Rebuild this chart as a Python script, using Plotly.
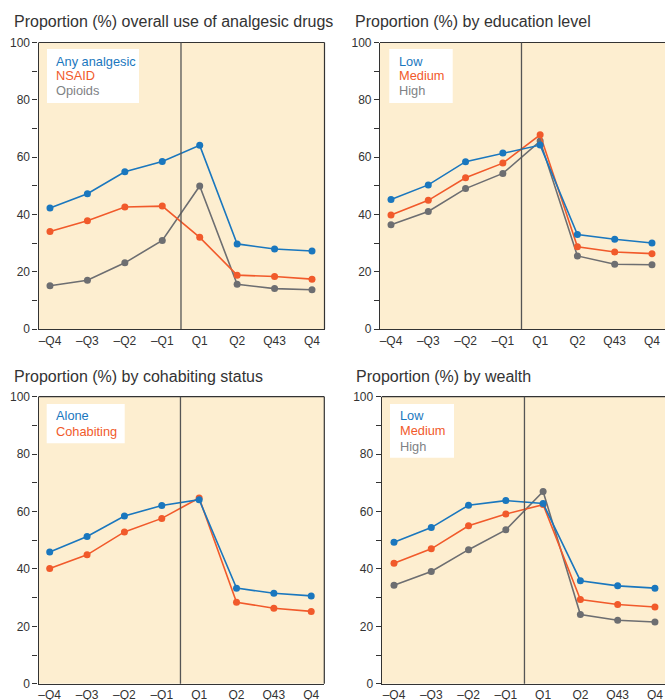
import plotly.graph_objects as go

W, H = 665, 700

# ---------------- data ----------------
quarters = ["–Q4", "–Q3", "–Q2", "–Q1", "Q1", "Q2", "Q43", "Q4"]
y_tick_vals = [0, 10, 20, 30, 40, 50, 60, 70, 80, 90, 100]
y_tick_text = ["0", "", "20", "", "40", "", "60", "", "80", "", "100"]

titles = [
    "Proportion (%) overall use of analgesic drugs",
    "Proportion (%) by education level",
    "Proportion (%) by cohabiting status",
    "Proportion (%) by wealth",
]

# Panel 1: overall use
any_analgesic = [42.2, 47.2, 54.9, 58.5, 64.1, 29.7, 27.9, 27.2]
nsaid = [34.0, 37.8, 42.6, 42.9, 32.0, 18.8, 18.3, 17.4]
opioids = [15.1, 17.0, 23.1, 30.9, 49.9, 15.6, 14.1, 13.7]

# Panel 2: education level
edu_low = [45.2, 50.3, 58.4, 61.4, 64.2, 33.0, 31.3, 30.0]
edu_medium = [39.8, 44.9, 52.8, 57.9, 67.8, 28.7, 26.9, 26.3]
edu_high = [36.4, 41.0, 49.0, 54.3, 65.6, 25.5, 22.6, 22.4]

# Panel 3: cohabiting status
cohab_alone = [45.9, 51.3, 58.4, 62.1, 64.1, 33.3, 31.5, 30.6]
cohab_cohabiting = [40.1, 44.9, 52.9, 57.6, 64.7, 28.4, 26.3, 25.2]

# Panel 4: wealth
wealth_low = [49.3, 54.4, 62.2, 63.8, 62.8, 35.9, 34.1, 33.3]
wealth_medium = [42.0, 47.0, 55.0, 59.1, 62.4, 29.3, 27.6, 26.7]
wealth_high = [34.3, 39.1, 46.7, 53.6, 67.0, 24.1, 22.1, 21.5]

series_names = [
    ["Any analgesic", "NSAID", "Opioids"],
    ["Low", "Medium", "High"],
    ["Alone", "Cohabiting"],
    ["Low", "Medium", "High"],
]
series_values = [
    [any_analgesic, nsaid, opioids],
    [edu_low, edu_medium, edu_high],
    [cohab_alone, cohab_cohabiting],
    [wealth_low, wealth_medium, wealth_high],
]

# ---------------- style ----------------
BLUE = "#1a77be"
ORANGE = "#f15a2b"
GRAY = "#6d6e71"
LEGEND_GRAY = "#808285"
LINE_COLORS = [BLUE, ORANGE, GRAY]
LEGEND_COLORS = [BLUE, ORANGE, LEGEND_GRAY]
BG = "#fdeed0"
AX = "#333333"
TXT = "#333333"
FONT = "Liberation Sans, Arial, sans-serif"

# pixel geometry of each panel: left, right, top, bottom, x-range
panels = [
    dict(l=38.5, r=324.5, t=42.5, b=329, xr=[-0.307, 7.334], right_border=True,
         title_xy=(11.7, 21.7), box=(47, 139, 49, 103), text_x=54.3, line_y=[61.7, 76, 90.7]),
    dict(l=380, r=665, t=42.5, b=329, xr=[-0.295, 7.349], right_border=False,
         title_xy=(352.7, 21.7), box=(389.3, 452.7, 49, 103), text_x=396.7, line_y=[61.7, 76, 90.7]),
    dict(l=38.5, r=324.3, t=396.7, b=683.7, xr=[-0.30, 7.35], right_border=True,
         title_xy=(11.7, 376.7), box=(46.7, 124.7, 404, 443.3), text_x=54.3, line_y=[415.7, 431]),
    dict(l=381.7, r=665, t=396.7, b=683.7, xr=[-0.33, 7.27], right_border=False,
         title_xy=(354, 376.7), box=(390, 454, 404, 457.7), text_x=398.3, line_y=[415.7, 430.7, 446]),
]


def px(x):
    return x / W


def py(y):
    return 1 - y / H


fig = go.Figure()
shapes = []
annotations = []
layout_axes = {}

for i, p in enumerate(panels):
    n = i + 1
    xa = "x" if n == 1 else f"x{n}"
    ya = "y" if n == 1 else f"y{n}"
    xkey = "xaxis" if n == 1 else f"xaxis{n}"
    ykey = "yaxis" if n == 1 else f"yaxis{n}"

    names = series_names[i]
    vals = series_values[i]
    # draw in reverse so first series is on top
    for k in reversed(range(len(names))):
        fig.add_trace(go.Scatter(
            x=quarters, y=vals[k], name=names[k], mode="lines+markers",
            line=dict(color=LINE_COLORS[k], width=1.6),
            marker=dict(color=LINE_COLORS[k], size=7),
            xaxis=xa, yaxis=ya, showlegend=False, hoverinfo="skip",
        ))

    layout_axes[xkey] = dict(
        domain=[px(p["l"]), min(1.0, px(p["r"]))],
        anchor=ya, type="category", range=p["xr"], automargin=False,
        showline=True, linecolor=AX, linewidth=1.2, ticks="",
        showgrid=False, zeroline=False, fixedrange=True,
        tickfont=dict(size=12, color=TXT, family=FONT),
    )
    layout_axes[ykey] = dict(
        domain=[py(p["b"]), py(p["t"])],
        anchor=xa, range=[0, 100], automargin=False,
        showline=True, linecolor=AX, linewidth=1.2,
        ticks="outside", ticklen=5, tickwidth=1, tickcolor=AX,
        tickvals=y_tick_vals, ticktext=y_tick_text,
        showgrid=False, zeroline=False, fixedrange=True,
        tickfont=dict(size=12, color=TXT, family=FONT),
    )

    # top border
    shapes.append(dict(type="line", xref=f"{xa} domain", yref=f"{ya} domain",
                       x0=0, x1=1, y0=1, y1=1, line=dict(color=AX, width=1.2)))
    if p["right_border"]:
        shapes.append(dict(type="line", xref=f"{xa} domain", yref=f"{ya} domain",
                           x0=1, x1=1, y0=0, y1=1, line=dict(color=AX, width=1.2)))
    # divider between before/after
    shapes.append(dict(type="line", xref=xa, yref=f"{ya} domain",
                       x0=3.5, x1=3.5, y0=0, y1=1, line=dict(color="#555555", width=1.3)))
    # legend box
    bl, br, bt, bb = p["box"]
    shapes.append(dict(type="rect", xref="paper", yref="paper",
                       x0=px(bl), x1=px(br), y0=py(bb), y1=py(bt),
                       fillcolor="white", line=dict(width=0), layer="above"))
    for k, nm in enumerate(names):
        annotations.append(dict(
            text=nm, xref="paper", yref="paper", x=px(p["text_x"]), y=py(p["line_y"][k]),
            xanchor="left", yanchor="middle", showarrow=False,
            font=dict(size=12.8, color=LEGEND_COLORS[k], family=FONT),
        ))
    # title
    tx, ty = p["title_xy"]
    annotations.append(dict(
        text=titles[i], xref="paper", yref="paper", x=px(tx), y=py(ty),
        xanchor="left", yanchor="middle", showarrow=False,
        font=dict(size=16, color=TXT, family=FONT),
    ))

fig.update_layout(
    width=W, height=H, autosize=False,
    margin=dict(l=0, r=0, t=0, b=0, pad=0, autoexpand=False),
    paper_bgcolor="white", plot_bgcolor=BG,
    shapes=shapes, annotations=annotations,
    showlegend=False,
    font=dict(family=FONT, color=TXT),
    **layout_axes,
)

fig.write_html(
    "out.html",
    config={"displayModeBar": False, "responsive": False},
    post_script="document.body.style.margin='0';document.body.style.overflow='hidden';",
)
